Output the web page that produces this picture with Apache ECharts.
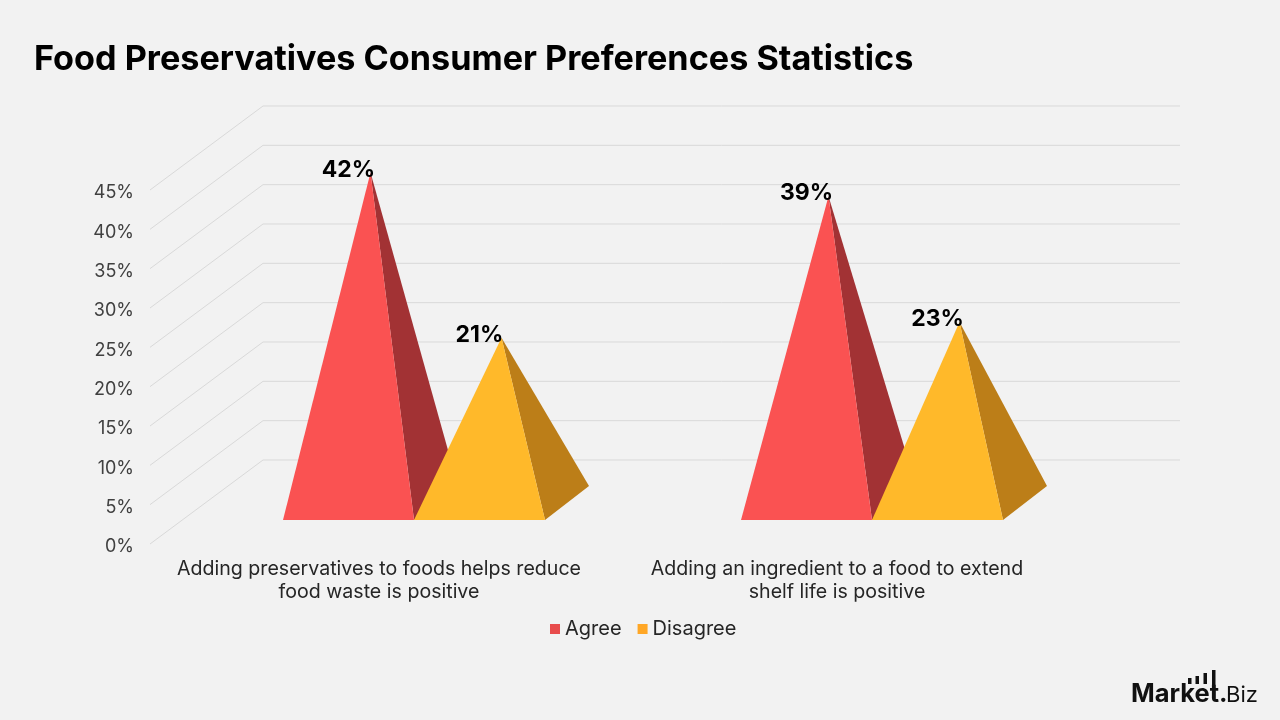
<!DOCTYPE html>
<html>
<head>
<meta charset="utf-8">
<style>
  html, body { margin: 0; padding: 0; background: #f2f2f2; }
  #chart { width: 1280px; height: 720px; }
</style>
<script src="https://cdn.jsdelivr.net/npm/echarts@6/dist/echarts.min.js"></script>
</head>
<body>
<div id="chart"></div>
<script>
const categories = [
  'Adding preservatives to foods helps reduce\nfood waste is positive',
  'Adding an ingredient to a food to extend\nshelf life is positive'
];
const agreeValues = [42, 39];
const disagreeValues = [21, 23];
const yTicks = [0, 5, 10, 15, 20, 25, 30, 35, 40, 45];

const FONT = 'Inter';

// Oblique projection of the chart box: the wall sits back from the axis plane.
const WALL_DX = 113, WALL_DY = 84, WALL_RIGHT = 1180;
// Pyramid footprint: base width, floor inset and depth of the square base.
const BASE_W = 131, FLOOR_INSET = 24, DEPTH_DX = 44, DEPTH_DY = 34;

function wallLine(params, api) {
  const p = api.coord([0, api.value(1)]);
  const x0 = params.coordSys.x;
  const pts = [[x0, p[1]], [x0 + WALL_DX, p[1] - WALL_DY], [WALL_RIGHT, p[1] - WALL_DY]];
  return {
    type: 'polyline',
    shape: { points: pts },
    style: { fill: null, stroke: '#d9d9d9', lineWidth: 1 },
    silent: true
  };
}

// Builds a renderItem for one pyramid series; leftShift places it inside the category band.
function pyramid(leftShift, frontColor, sideColor) {
  return function (params, api) {
    const value = api.value(1);
    const top = api.coord([api.value(0), value]);
    const zero = api.coord([api.value(0), 0]);
    const left = top[0] + leftShift;
    const right = left + BASE_W;
    const baseY = zero[1] - FLOOR_INSET;
    // The apex stands over the centre of the base, half a depth behind the front edge.
    const apexX = left + BASE_W / 2 + DEPTH_DX / 2;
    const apexY = top[1] - FLOOR_INSET - DEPTH_DY / 2;
    return {
      type: 'group',
      children: [
        {
          type: 'polygon',
          shape: { points: [[right, baseY], [right + DEPTH_DX, baseY - DEPTH_DY], [apexX, apexY]] },
          style: { fill: sideColor }
        },
        {
          type: 'polygon',
          shape: { points: [[left, baseY], [right, baseY], [apexX, apexY]] },
          style: { fill: frontColor }
        },
        {
          type: 'text',
          style: {
            x: left + BASE_W / 2,
            y: apexY - 3,
            text: value + '%',
            fill: '#000',
            font: 'bold 23px ' + FONT,
            align: 'center',
            verticalAlign: 'middle'
          }
        }
      ]
    };
  };
}

const pairs = vals => vals.map((v, i) => [i, v]);

const chart = echarts.init(document.getElementById('chart'));
chart.setOption({
  animation: false,
  backgroundColor: '#f2f2f2',
  title: {
    text: 'Food Preservatives Consumer Preferences Statistics',
    left: 34,
    top: 43,
    padding: 0,
    textStyle: { fontFamily: FONT, fontSize: 34.2, fontWeight: 'bold', color: '#000' }
  },
  grid: { left: 150, top: 190, width: 916, height: 354, containLabel: false },
  xAxis: {
    type: 'category',
    data: categories,
    axisLine: { show: false },
    axisTick: { show: false },
    axisLabel: { fontFamily: FONT, fontSize: 19.6, color: '#262626', lineHeight: 23, margin: 14, interval: 0 }
  },
  yAxis: {
    type: 'value',
    min: 0,
    max: 45,
    interval: 5,
    axisLine: { show: false },
    axisTick: { show: false },
    splitLine: { show: false },
    axisLabel: {
      margin: 16,
      formatter: '{tick|{value}%}',
      rich: { tick: { fontFamily: FONT, fontSize: 18, color: '#404040', padding: [6, 0, 0, 0] } }
    }
  },
  legend: {
    data: ['Agree', 'Disagree'],
    left: 550,
    top: 619,
    padding: 0,
    itemWidth: 10,
    itemHeight: 10,
    itemGap: 16,
    icon: 'rect',
    selectedMode: false,
    textStyle: { fontFamily: FONT, fontSize: 20, color: '#262626', padding: [2, 0, 0, 0] }
  },
  series: [
    {
      name: 'wall',
      type: 'custom',
      silent: true,
      z: 1,
      encode: { x: 0, y: 1 },
      data: yTicks.map(t => [0, t]),
      renderItem: wallLine
    },
    {
      name: 'Agree',
      type: 'custom',
      z: 2,
      itemStyle: { color: '#e84c4c' },
      encode: { x: 0, y: 1 },
      data: pairs(agreeValues),
      renderItem: pyramid(-96, '#fa5252', '#a23234')
    },
    {
      name: 'Disagree',
      type: 'custom',
      z: 3,
      itemStyle: { color: '#ffa726' },
      encode: { x: 0, y: 1 },
      data: pairs(disagreeValues),
      renderItem: pyramid(35, '#ffb92a', '#bc7e18')
    }
  ],
  graphic: [
    { type: 'text', left: 1131, top: 681, style: { text: 'Market.', font: 'bold 25.5px ' + FONT, fill: '#111' } },
    { type: 'text', left: 1226, top: 684, style: { text: 'Biz', font: '22px ' + FONT, fill: '#111' } },
    { type: 'rect', shape: { x: 1188, y: 678, width: 3.5, height: 6 }, style: { fill: '#111' } },
    { type: 'rect', shape: { x: 1195.5, y: 676, width: 3.5, height: 8 }, style: { fill: '#111' } },
    { type: 'rect', shape: { x: 1203.5, y: 673, width: 3.5, height: 11 }, style: { fill: '#111' } },
    { type: 'rect', shape: { x: 1212, y: 670, width: 3.5, height: 28 }, style: { fill: '#111' } }
  ]
});
</script>
</body>
</html>
